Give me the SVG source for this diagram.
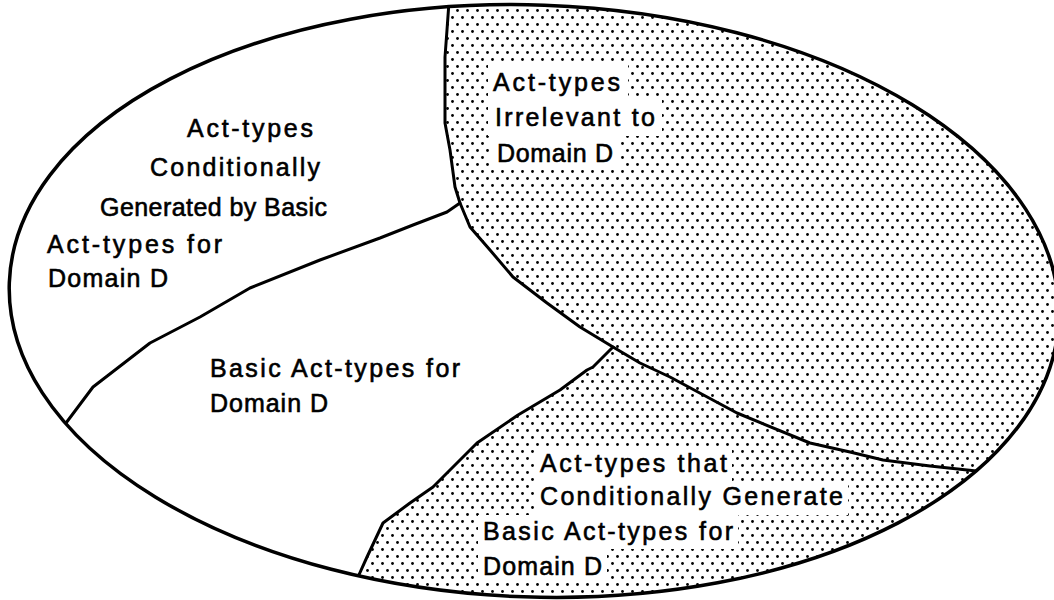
<svg xmlns="http://www.w3.org/2000/svg" width="1054" height="600" viewBox="0 0 1054 600">
<style>
.t{font-family:"Liberation Sans",Arial,sans-serif;font-size:25px;fill:#000;stroke:#000;stroke-width:0.6}
.b{fill:none;stroke:#000;stroke-width:3;stroke-linejoin:round;stroke-linecap:round}
.w{fill:#fff}
</style>
<defs>
<pattern id="dots" width="10" height="14" patternUnits="userSpaceOnUse">
<circle cx="2.5" cy="3.5" r="1.4" fill="#000"/>
<circle cx="7.5" cy="10.5" r="1.4" fill="#000"/>
</pattern>
<clipPath id="clip"><ellipse cx="534" cy="301" rx="525" ry="296" transform="rotate(2 534 301)"/></clipPath>
</defs>
<rect width="1054" height="600" fill="#fff"/>
<g id="region-irrelevant">
<path clip-path="url(#clip)" fill="url(#dots)" d="M449,-10 L449,2 L447,30 L445,57 L445,123 L450,150 L455,187 L460,203 L470,227 L490,250 L513,277 L547,303 L580,327 L613,347 L640,363 L670,377 L737,413 L810,443 L850,452 L883,460 L930,466 L990,472 L1070,472 L1070,-10 Z"/>
<rect class="w" x="488" y="64" width="140" height="36"/>
<rect class="w" x="488" y="100" width="174" height="36"/>
<rect class="w" x="490" y="136" width="130" height="33"/>
<text class="t" x="493" y="91" textLength="127" lengthAdjust="spacing">Act-types</text>
<text class="t" x="495" y="126" textLength="160" lengthAdjust="spacing">Irrelevant to</text>
<text class="t" x="497" y="162" textLength="116" lengthAdjust="spacing">Domain D</text>
</g>
<g id="region-generate">
<path clip-path="url(#clip)" fill="url(#dots)" d="M613,347 L593,367 L587,370 L560,390 L518,415 L477,443 L453,467 L433,487 L410,503 L383,523 L367,557 L358,577 L352,600 L352,610 L1070,610 L1070,472 L990,472 L930,466 L883,460 L850,452 L810,443 L737,413 L670,377 L640,363 Z"/>
<rect class="w" x="535" y="448" width="197" height="34"/>
<rect class="w" x="535" y="482" width="313" height="33"/>
<rect class="w" x="478" y="515" width="260" height="34"/>
<rect class="w" x="478" y="549" width="129" height="34"/>
<text class="t" x="540" y="472" textLength="187" lengthAdjust="spacing">Act-types that</text>
<text class="t" x="540" y="505" textLength="303" lengthAdjust="spacing">Conditionally Generate</text>
<text class="t" x="483" y="540" textLength="250" lengthAdjust="spacing">Basic Act-types for</text>
<text class="t" x="483" y="575" textLength="119" lengthAdjust="spacing">Domain D</text>
</g>
<g id="region-generated">
<text class="t" x="187" y="137" textLength="126" lengthAdjust="spacing">Act-types</text>
<text class="t" x="150" y="176" textLength="170" lengthAdjust="spacing">Conditionally</text>
<text class="t" x="100" y="216" textLength="227" lengthAdjust="spacing">Generated by Basic</text>
<text class="t" x="47" y="253" textLength="175" lengthAdjust="spacing">Act-types for</text>
<text class="t" x="48" y="287" textLength="120" lengthAdjust="spacing">Domain D</text>
</g>
<g id="region-basic">
<text class="t" x="210" y="377" textLength="250" lengthAdjust="spacing">Basic Act-types for</text>
<text class="t" x="210" y="412" textLength="118" lengthAdjust="spacing">Domain D</text>
</g>
<g id="boundaries" clip-path="url(#clip)">
<polyline class="b" points="449,-5 449,2 447,30 445,57 445,123 450,150 455,187 460,203 470,227 490,250 513,277 547,303 580,327 613,347 640,363 670,377 737,413 810,443 850,452 883,460 930,466 995,473"/>
<polyline class="b" points="460,203 447,212 413,225 380,238 320,260 250,288 200,317 150,343 93,387 63,427 55,440"/>
<polyline class="b" points="613,347 593,367 587,370 560,390 518,415 477,443 453,467 433,487 410,503 383,523 367,557 358,577 354,595"/>
</g>
<g id="outline">
<ellipse cx="534" cy="301" rx="525" ry="296" transform="rotate(2 534 301)" fill="none" stroke="#000" stroke-width="3.5"/>
</g>
</svg>
